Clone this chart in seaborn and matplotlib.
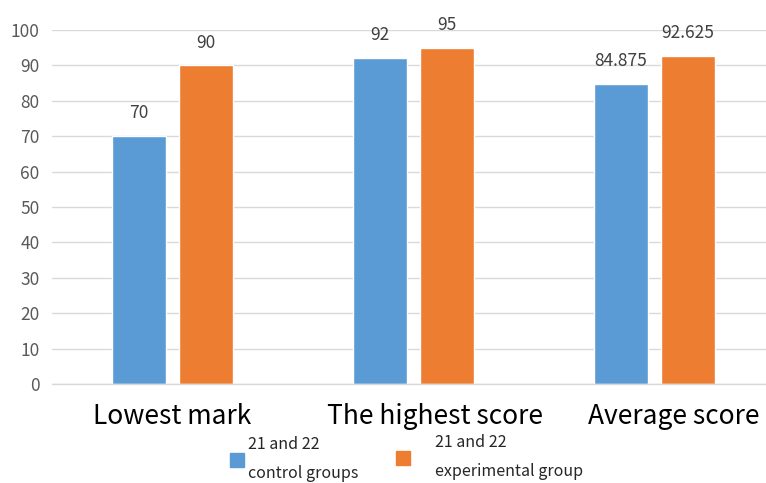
import matplotlib
matplotlib.use("Agg")
import matplotlib.pyplot as plt
import matplotlib.transforms as mtransforms
import seaborn as sns
import pandas as pd
from matplotlib.lines import Line2D

categories = ["Lowest mark", "The highest score", "Average score"]
series_names = ["21 and 22\ncontrol groups", "21 and 22\nexperimental group"]
control_values = [70, 92, 84.875]
experimental_values = [90, 95, 92.625]
y_ticks = [0, 10, 20, 30, 40, 50, 60, 70, 80, 90, 100]

colors = ["#5B9BD5", "#ED7D31"]

df = pd.DataFrame({
    "category": categories * 2,
    "group": [series_names[0]] * 3 + [series_names[1]] * 3,
    "score": control_values + experimental_values,
})

sns.set_theme(style="white")
plt.rcParams["font.family"] = ["Noto Sans CJK SC", "DejaVu Sans"]

fig = plt.figure(figsize=(7.66, 4.83), dpi=100)
ax = fig.add_axes([52 / 766, 1 - 384 / 483, 714 / 766, 354 / 483])

sns.barplot(data=df, x="category", y="score", hue="group", order=categories,
            hue_order=series_names, palette=colors, width=0.556, gap=0.194,
            legend=False, ax=ax, saturation=1)

for cont, vals in zip(ax.containers, [control_values, experimental_values]):
    labels = [f"{v:g}" for v in vals]
    ax.bar_label(cont, labels=labels, padding=10, fontsize=12.5, color="#404040")

ax.set_ylim(0, 100)
ax.set_xlim(-0.5, 2.463)
ax.set_yticks(y_ticks)
ax.set_yticklabels([str(t) for t in y_ticks], fontsize=12.5, color="#595959")
ax.tick_params(axis="y", length=0, pad=9)
ax.tick_params(axis="x", length=0, pad=14, labelsize=19, labelcolor="#000000")
ax.set_xlabel("")
ax.set_ylabel("")
ax.grid(axis="y", color="#D9D9D9", linewidth=1)
ax.set_axisbelow(True)
for side in ["top", "right", "left"]:
    ax.spines[side].set_visible(False)
ax.spines["bottom"].set_color("#D9D9D9")
ax.spines["bottom"].set_linewidth(1)

# the category labels sit a little right of their groups
label_shift_px = [0, 22, 19]
for lab, dx in zip(ax.get_xticklabels(), label_shift_px):
    shift = mtransforms.ScaledTranslation(dx / 100, 0, fig.dpi_scale_trans)
    lab.set_transform(lab.get_transform() + shift)

# one legend box per series so each entry can be placed on its own
legend_spots = [(229 / 766, 0.2, 1 - 436 / 483), (395 / 766, 1.5, 1 - 434 / 483)]
for color, name, (x0, pad, y0) in zip(colors, series_names, legend_spots):
    handle = Line2D([0], [0], marker="s", linestyle="none", markersize=10,
                    markerfacecolor=color, markeredgecolor=color)
    leg = fig.legend([handle], [name], loc="upper left",
                     bbox_to_anchor=(x0, y0), frameon=False, fontsize=11.5,
                     handletextpad=pad, handlelength=1.0, borderaxespad=0,
                     borderpad=0)
    for t in leg.get_texts():
        t.set_linespacing(1.95)

fig.savefig("out.png", dpi=100)
